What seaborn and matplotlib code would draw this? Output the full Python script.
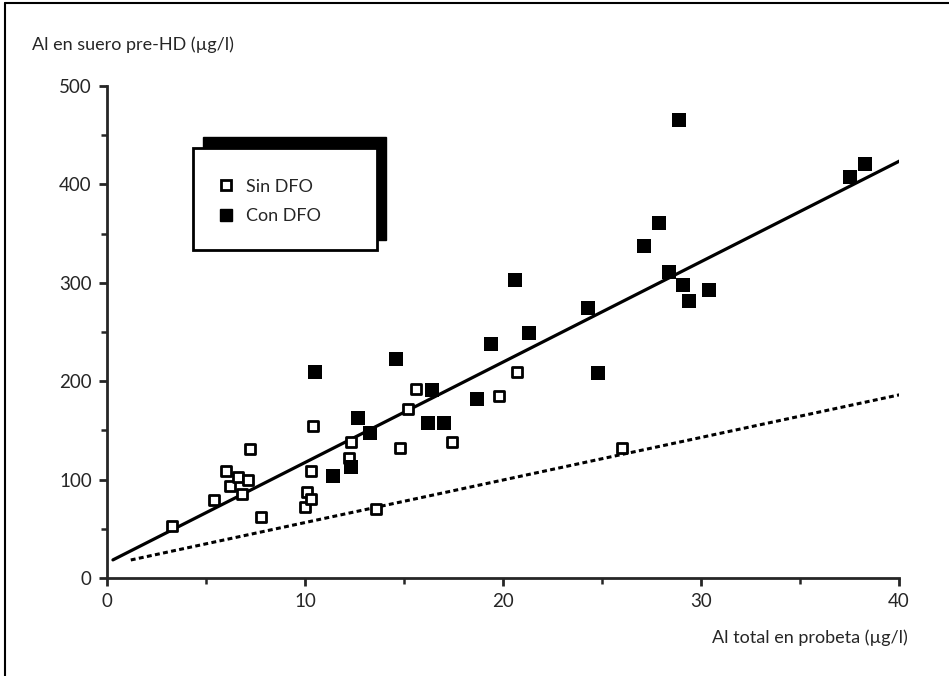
import matplotlib
matplotlib.use("Agg")
import matplotlib.pyplot as plt
import seaborn as sns
import pandas as pd
from matplotlib.patches import Rectangle
from matplotlib.lines import Line2D

# %% data

# open squares "Sin DFO"
sin_x = [3.3, 5.4, 6.0, 6.2, 6.6, 6.8, 7.1, 7.2, 7.8, 10.0, 10.1, 10.3,
         10.3, 10.4, 12.2, 12.3, 13.6, 14.8, 15.2, 15.6, 17.4, 19.8, 20.7, 26.0]
sin_y = [53, 79, 109, 94, 103, 85, 100, 131, 62, 72, 87, 80,
         109, 154, 122, 138, 70, 132, 172, 192, 138, 185, 209, 132]

# filled squares "Con DFO"
con_x = [10.5, 11.4, 12.3, 12.7, 13.3, 14.6, 16.2, 16.4, 17.0, 18.7, 19.4, 20.6,
         21.3, 24.3, 24.8, 27.1, 27.9, 28.4, 28.9, 29.1, 29.4, 30.4, 37.5, 38.3]
con_y = [209, 104, 113, 163, 147, 223, 158, 191, 158, 182, 238, 303,
         249, 274, 208, 337, 361, 311, 465, 298, 282, 293, 408, 421]

# regression line (solid) and reference line (dotted), end points
fit_x = [0.3, 40.1]
fit_y = [18.4, 424.5]
ref_x = [1.2, 40.4]
ref_y = [18.3, 187.8]

labels = ["Sin DFO", "Con DFO"]
x_ticks = [0, 10, 20, 30, 40]
y_ticks = [0, 100, 200, 300, 400, 500]

# %% style
sns.set_style("ticks")
plt.rcParams["font.family"] = ["Lato", "DejaVu Sans"]
plt.rcParams["font.size"] = 13

fig = plt.figure(figsize=(9.49, 6.76), dpi=100)
ax = fig.add_axes([107 / 949, 98 / 676, 792 / 949, 492 / 676])

sin_df = pd.DataFrame({"x": sin_x, "y": sin_y})
con_df = pd.DataFrame({"x": con_x, "y": con_y})

# lines
sns.lineplot(x=fit_x, y=fit_y, color="black", linewidth=2.3, ax=ax)
sns.lineplot(x=ref_x, y=ref_y, color="black", linewidth=2.2,
             linestyle=(0, (1.6, 1.1)), ax=ax)

# points
sns.scatterplot(data=sin_df, x="x", y="y", marker="s", s=55,
                facecolor="white", edgecolor="black", linewidth=2.0,
                zorder=3, clip_on=False, ax=ax)
sns.scatterplot(data=con_df, x="x", y="y", marker="s", s=90,
                color="black", linewidth=0, zorder=3, clip_on=False, ax=ax)

# axes
ax.set_xlim(0, 40)
ax.set_ylim(0, 500)
ax.set_xticks(x_ticks)
ax.set_yticks(y_ticks)
ax.set_xticks([5, 15, 25, 35], minor=True)
ax.set_yticks([50, 150, 250, 350, 450], minor=True)
sns.despine(ax=ax)
for s in ["left", "bottom"]:
    ax.spines[s].set_linewidth(2.0)
ax.tick_params(which="major", length=6, width=2.0, pad=5, labelsize=13.5)
ax.tick_params(which="minor", length=4, width=1.8)

ax.set_xlabel("Al total en probeta (µg/l)", fontsize=13, ha="right", va="center")
ax.xaxis.set_label_coords(1.011, -0.122)
ax.set_ylabel("Al en suero pre-HD (µg/l)", fontsize=13, rotation=0,
              ha="left", va="center")
ax.yaxis.set_label_coords(-0.095, 1.083)

# legend box with shadow up and right
ax.add_patch(Rectangle((0.1212, 0.687), 0.2311, 0.2093, transform=ax.transAxes,
                       facecolor="black", edgecolor="black", zorder=5,
                       clip_on=False))
ax.add_patch(Rectangle((0.1086, 0.6667), 0.2323, 0.2073, transform=ax.transAxes,
                       facecolor="white", edgecolor="black", linewidth=2.0,
                       zorder=6, clip_on=False))
handles = [
    Line2D([], [], marker="s", linestyle="none", markersize=7,
           markerfacecolor="white", markeredgecolor="black", markeredgewidth=2),
    Line2D([], [], marker="s", linestyle="none", markersize=8.5,
           markerfacecolor="black", markeredgecolor="black"),
]
leg = ax.legend(handles, labels, loc="upper left", bbox_to_anchor=(0.118, 0.845),
                frameon=False, fontsize=13, handlelength=1.0, handletextpad=0.6,
                labelspacing=0.75)
leg.set_zorder(7)

# page frame: left and top edges
fig.add_artist(Line2D([5 / 949, 5 / 949], [0, 673 / 676], transform=fig.transFigure,
                      color="black", linewidth=1.5))
fig.add_artist(Line2D([5 / 949, 1], [673 / 676, 673 / 676], transform=fig.transFigure,
                      color="black", linewidth=1.5))

plt.savefig("out.png", dpi=100)
